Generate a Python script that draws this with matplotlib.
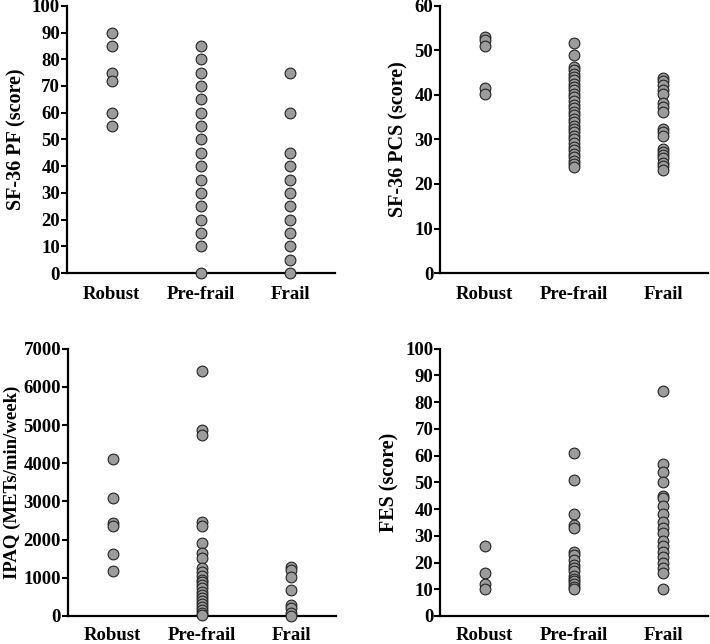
import numpy as np
import matplotlib.pyplot as plt

groups = ['Robust', 'Pre-frail', 'Frail']

# SF-36 physical functioning
pf_robust = [90, 85, 75, 72, 60, 55]
pf_prefrail = [85, 80, 75, 70, 65, 60, 55, 50, 45, 40, 35, 30, 25, 20, 15, 10, 0]
pf_frail = [75, 60, 45, 40, 35, 30, 25, 20, 15, 10, 5, 0]

# SF-36 physical component summary
pcs_robust = [52.9, 52.3, 50.9, 41.6, 40.1]
pcs_prefrail = [51.7, 49.0, 46.3, 45.5, 44.8, 44.0, 43.3, 42.5, 41.8, 41.0, 40.2,
                39.5, 38.6, 37.8, 37.0, 36.2, 35.5, 34.6, 33.8, 33.0, 32.4, 31.6,
                30.8, 30.0, 29.2, 28.4, 27.6, 26.8, 26.0, 25.2, 24.4, 23.9]
pcs_frail = [43.8, 43.2, 42.2, 41.2, 40.3, 38.2, 37.3, 36.2, 32.4, 31.6, 30.8,
             27.8, 27.2, 26.5, 25.8, 24.8, 24.0, 23.2]

# IPAQ
ipaq_robust = [4100, 3080, 2430, 2360, 1630, 1190]
ipaq_prefrail = [6420, 4880, 4740, 2450, 2360, 1920, 1640, 1510, 1250, 1150, 1050,
                 950, 880, 800, 720, 640, 560, 480, 400, 320, 240, 160, 80, 20]
ipaq_frail = [1290, 1200, 1020, 680, 300, 210, 80, 0]

# FES
fes_robust = [26, 16, 12, 10]
fes_prefrail = [61, 51, 38, 34, 33, 24, 23, 21, 19, 18, 17, 15, 14, 13, 12, 11, 10]
fes_frail = [84, 57, 54, 50, 45, 44, 41, 38, 35, 33, 31, 28, 26, 24, 22, 20, 18, 16, 10]

# data, y label, y max, tick step, label size, label pad, x tick pad
panels = [
    ([pf_robust, pf_prefrail, pf_frail], 'SF-36 PF (score)', 100, 10, 14.5, 4, 9),
    ([pcs_robust, pcs_prefrail, pcs_frail], 'SF-36 PCS (score)', 60, 10, 14.5, 4, 9),
    ([ipaq_robust, ipaq_prefrail, ipaq_frail], 'IPAQ (METs/min/week)', 7000, 1000, 13.5, 2, 8),
    ([fes_robust, fes_prefrail, fes_frail], 'FES (score)', 100, 10, 14.5, 4, 8),
]
positions = [
    [0.0944, 0.576, 0.377, 0.415],
    [0.620, 0.576, 0.377, 0.415],
    [0.0958, 0.0435, 0.377, 0.415],
    [0.620, 0.0435, 0.377, 0.415],
]

plt.rcParams['font.family'] = ['Liberation Serif', 'DejaVu Serif']
plt.rcParams['font.weight'] = 'bold'

fig = plt.figure(figsize=(7.1, 6.44), dpi=100)

for (data, label, ymax, step, lsize, lpad, xpad), pos in zip(panels, positions):
    ax = fig.add_axes(pos)
    for i, vals in enumerate(data):
        ax.scatter(np.full(len(vals), i), vals, s=60, color='#9c9c9c',
                   edgecolor='#222222', linewidth=0.8, zorder=3, clip_on=False)
    ax.set_xlim(-0.5, 2.5)
    ax.set_ylim(0, ymax)
    ax.set_yticks(np.arange(0, ymax + 1, step))
    ax.set_xticks(range(3))
    ax.set_xticklabels(groups, fontsize=13.5, fontweight='bold')
    ax.tick_params(axis='x', length=0, pad=xpad)
    ax.tick_params(axis='y', length=4, width=1.5, labelsize=13.5, pad=1)
    for t in ax.get_yticklabels():
        t.set_fontweight('bold')
    ax.set_ylabel(label, fontsize=lsize, fontweight='bold', labelpad=lpad)
    ax.spines['top'].set_visible(False)
    ax.spines['right'].set_visible(False)
    ax.spines['left'].set_linewidth(1.6)
    ax.spines['bottom'].set_linewidth(1.6)

fig.savefig('out.png', dpi=100)
